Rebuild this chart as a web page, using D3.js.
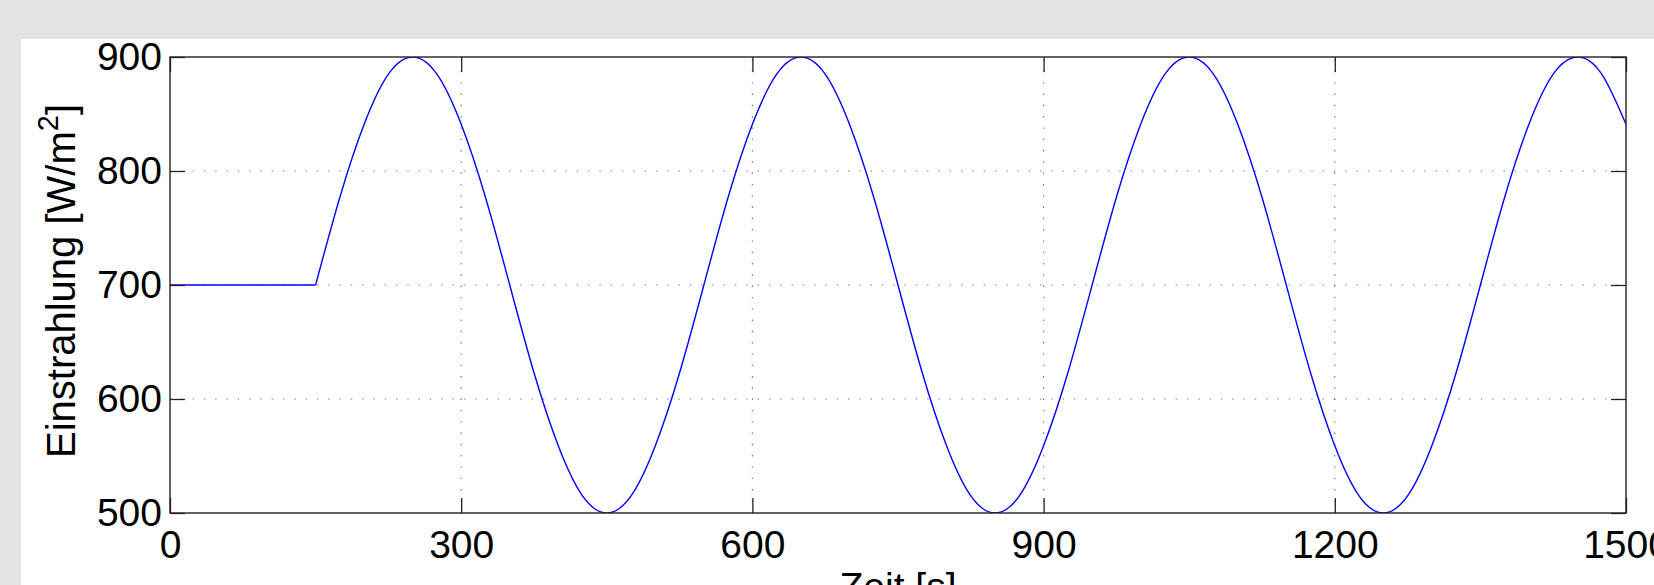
<!DOCTYPE html>
<html lang="de">
	<head>
		<meta charset="utf-8">
		<title>Einstrahlung</title>
		<script src="https://d3js.org/d3.v7.min.js"></script>
		<style>
			body { margin: 0; background: #e3e3e3; }
			svg { display: block; }
			.axis text { font-family: "Liberation Sans", Arial, sans-serif; font-size: 39px; fill: #000; }
			.axis line { stroke: #222; stroke-width: 1.3; }
			.axis path { display: none; }
		</style>
	</head>
	<body>
		<script type="text/javascript">
			// window size setup
			var w = 1654
			var h = 585
			var plotLeft = 170, plotRight = 1626, plotTop = 57, plotBottom = 513

			// data
			var zeit = [0, 150, 175, 200, 225, 250, 275, 300, 325, 350, 375, 400, 425, 450, 475, 500, 525,
						550, 575, 600, 625, 650, 675, 700, 725, 750, 775, 800, 825, 850, 875, 900, 925,
						950, 975, 1000, 1025, 1050, 1075, 1100, 1125, 1150, 1175, 1200, 1225, 1250, 1275, 1300, 1325,
						1350, 1375, 1400, 1425, 1450, 1475, 1500]
			var einstrahlung = [700, 700, 777, 841, 885, 900, 885, 841, 777, 700, 623, 559, 515, 500, 515, 559, 623,
						700, 777, 841, 885, 900, 885, 841, 777, 700, 623, 559, 515, 500, 515, 559, 623,
						700, 777, 841, 885, 900, 885, 841, 777, 700, 623, 559, 515, 500, 515, 559, 623,
						700, 777, 841, 885, 900, 885, 841]

			var xTicks = [0, 300, 600, 900, 1200, 1500]
			var yTicks = [500, 600, 700, 800, 900]

			var xLabel = "Zeit [s]"
			var yLabel = "Einstrahlung [W/m"

			// scales
			var xScale = d3.scaleLinear().domain([0, 1500]).range([plotLeft, plotRight])
			var yScale = d3.scaleLinear().domain([500, 900]).range([plotBottom, plotTop])

			var svg = d3.select("body")
						.append("svg")
						.attr("width", w)
						.attr("height", h)

			// white figure area
			svg.append("rect")
				.attr("x", 21).attr("y", 39)
				.attr("width", w - 21).attr("height", h - 39)
				.attr("fill", "#fff")

			// clip
			svg.append("clipPath").attr("id", "plotClip")
				.append("rect")
				.attr("x", plotLeft).attr("y", plotTop)
				.attr("width", plotRight - plotLeft).attr("height", plotBottom - plotTop)

			// grid (dotted)
			var grid = svg.append("g")
						.attr("stroke", "#777")
						.attr("stroke-width", 1.2)
						.attr("stroke-dasharray", "1.4,9.9")
			grid.selectAll(".gx")
				.data(xTicks.slice(1, -1))
				.enter()
				.append("line")
				.attr("x1", function(d){ return xScale(d) })
				.attr("x2", function(d){ return xScale(d) })
				.attr("y1", plotBottom)
				.attr("y2", plotTop)
			grid.selectAll(".gy")
				.data(yTicks.slice(1, -1))
				.enter()
				.append("line")
				.attr("y1", function(d){ return yScale(d) })
				.attr("y2", function(d){ return yScale(d) })
				.attr("x1", plotLeft)
				.attr("x2", plotRight)

			// the curve: flat part straight, wave part smoothed
			var pts = zeit.map(function(t, i){ return [t, einstrahlung[i]] })
			var lineFlat = d3.line()
							.x(function(d){ return xScale(d[0]) })
							.y(function(d){ return yScale(d[1]) })
			var lineWave = d3.line()
							.x(function(d){ return xScale(d[0]) })
							.y(function(d){ return yScale(d[1]) })
							.curve(d3.curveNatural)

			var curve = svg.append("g").attr("clip-path", "url(#plotClip)")
			curve.append("path")
				.attr("d", lineFlat(pts.slice(0, 2)))
				.attr("fill", "none")
				.attr("stroke", "#0000ff")
				.attr("stroke-width", 1.4)
			curve.append("path")
				.attr("d", lineWave(pts.slice(1)))
				.attr("fill", "none")
				.attr("stroke", "#0000ff")
				.attr("stroke-width", 1.4)

			// axes, ticks pointing inward
			var fmt = d3.format("d")
			svg.append("g")
				.attr("class", "axis")
				.attr("transform", "translate(0," + plotBottom + ")")
				.call(d3.axisBottom(xScale).tickValues(xTicks).tickSizeInner(-15).tickSizeOuter(0).tickPadding(17).tickFormat(fmt))
			svg.append("g")
				.attr("class", "axis")
				.attr("transform", "translate(0," + plotTop + ")")
				.call(d3.axisTop(xScale).tickValues(xTicks).tickSizeInner(-15).tickSizeOuter(0).tickFormat(""))
			svg.append("g")
				.attr("class", "axis")
				.attr("transform", "translate(" + plotLeft + ",0)")
				.call(d3.axisLeft(yScale).tickValues(yTicks).tickSizeInner(-15).tickSizeOuter(0).tickPadding(8).tickFormat(fmt))
			svg.append("g")
				.attr("class", "axis")
				.attr("transform", "translate(" + plotRight + ",0)")
				.call(d3.axisRight(yScale).tickValues(yTicks).tickSizeInner(-15).tickSizeOuter(0).tickFormat(""))

			// box
			svg.append("rect")
				.attr("x", plotLeft).attr("y", plotTop)
				.attr("width", plotRight - plotLeft).attr("height", plotBottom - plotTop)
				.attr("fill", "none")
				.attr("stroke", "#222")
				.attr("stroke-width", 1.4)

			// axis titles
			svg.append("text")
				.attr("x", (plotLeft + plotRight) / 2)
				.attr("y", 600)
				.attr("text-anchor", "middle")
				.attr("font-family", "Liberation Sans, Arial, sans-serif")
				.attr("font-size", 39)
				.text(xLabel)

			var yt = svg.append("text")
				.attr("transform", "translate(75," + ((plotTop + plotBottom) / 2 - 4) + ") rotate(-90)")
				.attr("text-anchor", "middle")
				.attr("font-family", "Liberation Sans, Arial, sans-serif")
				.attr("font-size", 40)
			yt.append("tspan").text(yLabel)
			yt.append("tspan").attr("dy", -17).attr("font-size", 29).text("2")
			yt.append("tspan").attr("dy", 17).text("]")
		</script>
	</body>
</html>
